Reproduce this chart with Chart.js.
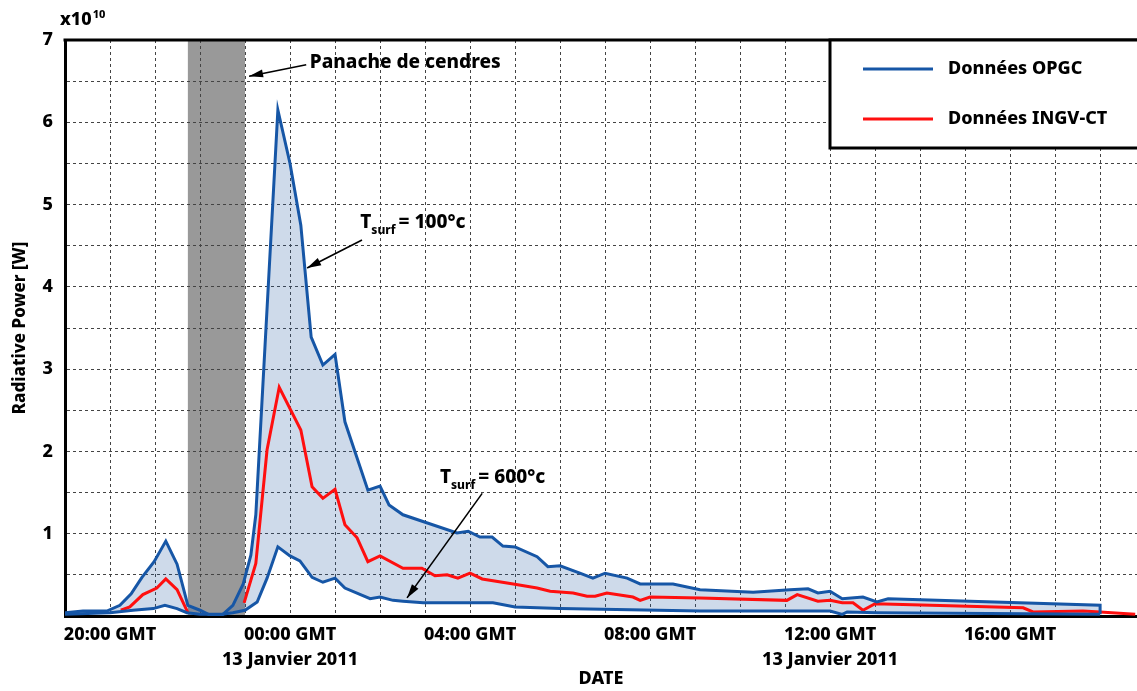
<!DOCTYPE html>
<html>
<head>
<meta charset="utf-8">
<script src="https://cdn.jsdelivr.net/npm/chart.js@4/dist/chart.umd.min.js"></script>
<style>
html, body { margin: 0; padding: 0; background: #fff; }
</style>
</head>
<body>
<canvas id="chart" width="1137" height="691"></canvas>
<script>
// hours relative to 00:00 GMT, 13 Janvier 2011 ; power in units of 1e10 W
const opgcHighHours = [-5.00, -4.60, -4.07, -3.78, -3.53, -3.29, -3.02, -2.76, -2.51, -2.27, -2.00, -1.78, -1.51, -1.27, -1.04, -0.87, -0.76,
  -0.27, 0.00, 0.24, 0.47, 0.73, 1.00, 1.22, 1.73, 2.00, 2.20, 2.51, 3.71, 3.96, 4.22, 4.49, 4.73, 5.00, 5.49, 5.73, 6.00,
  6.44, 6.73, 7.00, 7.49, 7.78, 8.51, 9.11, 10.29, 11.11, 11.51, 11.73, 12.00, 12.27, 12.73, 13.04, 13.29, 18.00, 18.00];
const opgcHighPower = [0.04, 0.06, 0.06, 0.13, 0.27, 0.47, 0.66, 0.91, 0.63, 0.13, 0.07, 0.01, 0.01, 0.13, 0.39, 0.74, 1.23,
  6.15, 5.50, 4.75, 3.39, 3.05, 3.18, 2.36, 1.53, 1.58, 1.35, 1.23, 1.01, 1.03, 0.96, 0.96, 0.85, 0.84, 0.72, 0.60, 0.61,
  0.52, 0.46, 0.52, 0.46, 0.39, 0.39, 0.32, 0.29, 0.32, 0.33, 0.28, 0.30, 0.21, 0.23, 0.17, 0.21, 0.13, 0.02];

const opgcLowHours = [-5.00, -4.00, -3.49, -3.04, -2.78, -2.51, -2.29, -2.00, -1.51, -1.27, -1.00, -0.73, -0.51, -0.27, 0.00, 0.22,
  0.49, 0.73, 1.00, 1.22, 1.78, 2.00, 2.29, 2.51, 2.96, 4.00, 4.51, 5.00, 6.00, 9.11, 12.00, 12.27, 12.38, 13.04, 18.00];
const opgcLowPower = [0.02, 0.04, 0.07, 0.09, 0.13, 0.09, 0.04, 0.02, 0.02, 0.04, 0.07, 0.17, 0.46, 0.84, 0.73, 0.67,
  0.47, 0.41, 0.46, 0.34, 0.21, 0.23, 0.19, 0.18, 0.16, 0.16, 0.16, 0.11, 0.09, 0.06, 0.06, 0.02, 0.05, 0.04, 0.02];

const ingvHours = [-3.76, -3.56, -3.27, -2.96, -2.76, -2.51, -2.27, -1.60, -1.02, -0.76, -0.51, -0.24, 0.24, 0.49, 0.73, 1.00,
  1.22, 1.49, 1.73, 2.00, 2.51, 2.93, 3.22, 3.49, 3.73, 4.00, 4.27, 4.96, 5.49, 5.78, 6.29, 6.60, 6.78, 7.04, 7.62, 7.78,
  8.00, 9.11, 11.04, 11.27, 11.73, 12.00, 12.27, 12.51, 12.73, 13.00, 16.29, 16.51, 17.62, 18.00, 18.78];
const ingvPower = [0.07, 0.11, 0.26, 0.34, 0.45, 0.32, 0.04, null, 0.16, 0.64, 2.02, 2.78, 2.26, 1.57, 1.43, 1.54,
  1.11, 0.95, 0.66, 0.73, 0.58, 0.58, 0.49, 0.50, 0.46, 0.52, 0.45, 0.39, 0.34, 0.30, 0.28, 0.24, 0.24, 0.28, 0.23, 0.19,
  0.23, 0.22, 0.19, 0.26, 0.18, 0.19, 0.16, 0.16, 0.07, 0.15, 0.10, 0.05, 0.06, 0.05, 0.02];

const plumeHours = [-2.27, -1.00];
const xTickHours = [-4, 0, 4, 8, 12, 16];
const xTickLabels = [['20:00 GMT'], ['00:00 GMT', '13 Janvier 2011'], ['04:00 GMT'], ['08:00 GMT'], ['12:00 GMT', '13 Janvier 2011'], ['16:00 GMT']];
const yTickValues = [1, 2, 3, 4, 5, 6, 7];

const BLUE = '#1656a6';
const RED = '#ff0f0f';
const FONT = 'Noto Sans';
const W8 = '800';

function pts(xs, ys) { return xs.map((x, i) => ({ x: x, y: ys[i] })); }

function arrow(ctx, x1, y1, x2, y2) {
  ctx.beginPath(); ctx.moveTo(x1, y1); ctx.lineTo(x2, y2); ctx.stroke();
  const a = Math.atan2(y2 - y1, x2 - x1), L = 14, W = 4;
  ctx.beginPath();
  ctx.moveTo(x2, y2);
  ctx.lineTo(x2 - L * Math.cos(a) + W * Math.sin(a), y2 - L * Math.sin(a) - W * Math.cos(a));
  ctx.lineTo(x2 - L * Math.cos(a) - W * Math.sin(a), y2 - L * Math.sin(a) + W * Math.cos(a));
  ctx.closePath(); ctx.fill();
}

function tsurf(ctx, x, y, rest) {
  ctx.textBaseline = 'alphabetic';
  ctx.font = W8 + ' 19px "' + FONT + '"';
  ctx.fillText('T', x, y);
  let w = ctx.measureText('T').width;
  ctx.font = W8 + ' 12px "' + FONT + '"';
  ctx.fillText('surf', x + w, y + 6);
  w += ctx.measureText('surf').width + 3;
  ctx.font = W8 + ' 19px "' + FONT + '"';
  ctx.fillText(rest, x + w, y);
}

const decor = {
  id: 'decor',
  beforeDraw(chart) {
    const { ctx, chartArea: a, scales: { x } } = chart;
    const x0 = x.getPixelForValue(plumeHours[0]), x1 = x.getPixelForValue(plumeHours[1]);
    ctx.save();
    ctx.fillStyle = '#999999';
    ctx.fillRect(x0, a.top, x1 - x0, a.bottom - a.top);
    ctx.restore();
  },
  afterDraw(chart) {
    const { ctx, chartArea: a, scales: { x, y } } = chart;
    const px = v => x.getPixelForValue(v), py = v => y.getPixelForValue(v);
    ctx.save();
    // top frame
    ctx.strokeStyle = '#000'; ctx.lineWidth = 3;
    ctx.beginPath(); ctx.moveTo(a.left - 1.5, a.top); ctx.lineTo(a.right, a.top); ctx.stroke();

    // annotations
    ctx.fillStyle = '#000'; ctx.strokeStyle = '#000'; ctx.lineWidth = 1.6;
    ctx.font = W8 + ' 19px "' + FONT + '"';
    ctx.textBaseline = 'middle';
    ctx.fillText('Panache de cendres', px(0.44), py(6.73));
    arrow(ctx, px(0.36), py(6.70), px(-0.91), py(6.56));
    tsurf(ctx, px(1.56), py(4.72), '= 100°c');
    arrow(ctx, px(1.60), py(4.57), px(0.38), py(4.23));
    tsurf(ctx, px(3.33), py(1.62), '= 600°c');
    arrow(ctx, px(4.27), py(1.49), px(2.60), py(0.22));

    // legend box
    const bx = 830, by = a.top, bh = 108;
    ctx.fillStyle = '#fff';
    ctx.fillRect(bx, by, chart.width - bx + 5, bh);
    ctx.lineWidth = 3; ctx.strokeStyle = '#000';
    ctx.strokeRect(bx, by, chart.width - bx + 5, bh);
    const items = [chart.data.datasets[0], chart.data.datasets[2]];
    items.forEach((ds, i) => {
      const ly = by + 29 + i * 50;
      ctx.strokeStyle = ds.borderColor; ctx.lineWidth = 3;
      ctx.beginPath(); ctx.moveTo(863, ly); ctx.lineTo(933, ly); ctx.stroke();
      ctx.fillStyle = '#000';
      ctx.font = W8 + ' 18px "' + FONT + '"';
      ctx.textBaseline = 'middle';
      ctx.fillText(ds.label, 948, ly);
    });

    // exponent
    ctx.fillStyle = '#000';
    ctx.textBaseline = 'alphabetic';
    ctx.font = W8 + ' 18px "' + FONT + '"';
    ctx.fillText('x10', 60, 25);
    const w = ctx.measureText('x10').width;
    ctx.font = W8 + ' 11px "' + FONT + '"';
    ctx.fillText('10', 60 + w + 1, 18);
    ctx.restore();
  }
};

const gridColor = '#444';

new Chart(document.getElementById('chart'), {
  type: 'line',
  data: {
    datasets: [
      {
        label: 'Données OPGC',
        data: pts(opgcHighHours, opgcHighPower),
        borderColor: BLUE, borderWidth: 3,
        backgroundColor: 'rgba(30,85,160,0.22)',
        fill: '+1', pointRadius: 0, tension: 0
      },
      {
        label: 'Données OPGC (600°c)',
        data: pts(opgcLowHours, opgcLowPower),
        borderColor: BLUE, borderWidth: 3,
        fill: false, pointRadius: 0, tension: 0
      },
      {
        label: 'Données INGV-CT',
        data: pts(ingvHours, ingvPower),
        borderColor: RED, borderWidth: 3,
        fill: false, pointRadius: 0, tension: 0, spanGaps: false
      }
    ]
  },
  options: {
    responsive: false,
    animation: false,
    layout: { padding: { top: 40, right: 0, left: 0, bottom: 0 } },
    plugins: {
      legend: { display: false },
      tooltip: { enabled: false },
      filler: { drawTime: 'beforeDatasetsDraw' }
    },
    scales: {
      x: {
        type: 'linear',
        min: -5, max: 18.82,
        afterFit: s => { s.height = 75; },
        grid: { color: gridColor, lineWidth: 1, drawTicks: false },
        border: { display: true, color: '#000', width: 3, dash: [3, 3] },
        ticks: {
          stepSize: 1, autoSkip: false, maxRotation: 0, includeBounds: false,
          padding: 6, color: '#000',
          font: { family: FONT, size: 18, weight: W8, lineHeight: 1.4 },
          callback: v => { const i = xTickHours.indexOf(v); return i < 0 ? '' : xTickLabels[i]; }
        },
        title: {
          display: true, text: 'DATE', color: '#000',
          font: { family: FONT, size: 18, weight: W8 },
          padding: { top: 0, bottom: 1 }
        }
      },
      y: {
        min: 0, max: 7,
        afterFit: s => { s.width = 65; },
        grid: { color: gridColor, lineWidth: 1, drawTicks: false },
        border: { display: true, color: '#000', width: 3, dash: [3, 3] },
        ticks: {
          stepSize: 0.5, autoSkip: false, padding: 12, color: '#000',
          font: { family: FONT, size: 18, weight: W8 },
          callback: v => yTickValues.includes(v) ? String(v) : ''
        },
        title: {
          display: true, text: 'Radiative Power [W]', color: '#000',
          font: { family: FONT, size: 17, weight: W8 },
          padding: { top: 10, bottom: 0 }
        }
      }
    }
  },
  plugins: [decor]
});
</script>
</body>
</html>
